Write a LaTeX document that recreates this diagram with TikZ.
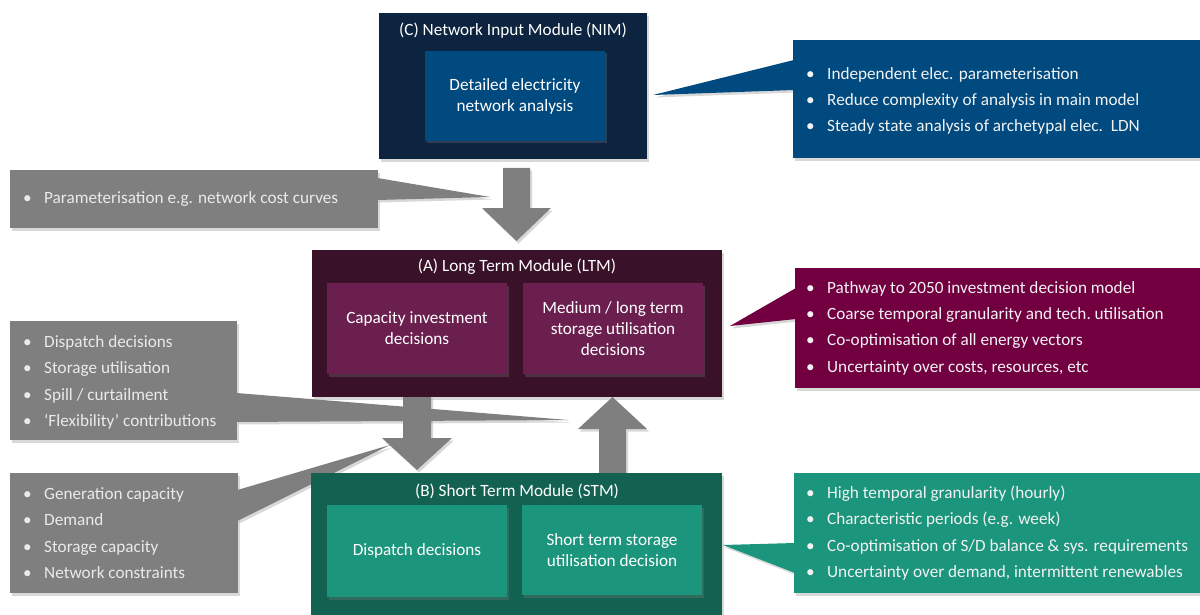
\documentclass[tikz,border=0pt]{standalone}
\usepackage{fontspec}
\setmainfont{Carlito}
\usetikzlibrary{shadows,calc}
\definecolor{nimouter}{HTML}{0D2440}
\definecolor{nimin}{HTML}{004A7F}
\definecolor{ltmouter}{HTML}{391129}
\definecolor{ltmin}{HTML}{6B1F4F}
\definecolor{pinkc}{HTML}{720041}
\definecolor{stmouter}{HTML}{136150}
\definecolor{stmin}{HTML}{1B957B}
\definecolor{boxgray}{HTML}{7F7F7F}
\definecolor{graytext}{HTML}{EAEAEA}
\definecolor{calltext}{HTML}{F2F2F2}
\newcommand\bl{\makebox[21pt][l]{\textbullet}}
\begin{document}
\begin{tikzpicture}[x=1pt,y=-1pt,
 shd/.style={drop shadow={shadow xshift=2pt,shadow yshift=-2.5pt,opacity=0.3}},
 modbox/.style={rectangle, inner sep=0pt, shd, anchor=north west},
 inbox/.style={rectangle, inner sep=0pt, shd, align=center, text=white, font=\fontsize{17.2}{21}\selectfont},
 ttl/.style={text=white, font=\fontsize{17.2}{20}\selectfont, inner sep=0pt},
 lst/.style={anchor=west, align=left, inner sep=0pt, font=\fontsize{17.2}{26.3}\selectfont},
 garrow/.style={fill=boxgray, shd}
]
\fill[white] (0,0) rectangle (1200,615);
\useasboundingbox (0,0) rectangle (1200,615);

% ---------- gray input boxes ----------
\node[modbox, fill=boxgray, minimum width=368pt, minimum height=58pt] (pbox) at (10,170) {};
\node[modbox, fill=boxgray, minimum width=227pt, minimum height=119pt] (dbox) at (10,321) {};
\node[modbox, fill=boxgray, minimum width=228pt, minimum height=120pt] (gbox) at (10,473) {};

\coordinate (ptip) at (490,197);
\coordinate (dtip) at (568,420);
\coordinate (gtip) at (390,445);

% ---------- modules ----------
\node[modbox, fill=nimouter, minimum width=268pt, minimum height=146pt] (nim) at (379,13) {};
\node[modbox, fill=ltmouter, minimum width=410pt, minimum height=147pt] (ltm) at (312,250) {};
\node[modbox, fill=stmouter, minimum width=411pt, minimum height=150pt] (stm) at (311,473) {};

% ---------- block arrows ----------
\coordinate (a1s) at (516.5,168);
\coordinate (a1e) at (516.5,241);
\fill[garrow] ($(a1s)+(-13.5,0)$) -- ($(a1s)+(13.5,0)$) -- ($(a1e)+(13.5,-33)$) -- ($(a1e)+(34.5,-33)$)
  -- (a1e) -- ($(a1e)+(-34.5,-33)$) -- ($(a1e)+(-13.5,-33)$) -- cycle;
\coordinate (a2s) at (417,396);
\coordinate (a2e) at (417,470);
\fill[garrow] ($(a2s)+(-14,0)$) -- ($(a2s)+(14,0)$) -- ($(a2e)+(14,-32)$) -- ($(a2e)+(35,-32)$)
  -- (a2e) -- ($(a2e)+(-35,-32)$) -- ($(a2e)+(-14,-32)$) -- cycle;
\coordinate (a3s) at (612.5,473);
\coordinate (a3e) at (612.5,397);
\fill[garrow] ($(a3s)+(-13.5,0)$) -- ($(a3s)+(13.5,0)$) -- ($(a3e)+(13.5,32)$) -- ($(a3e)+(34.5,32)$)
  -- (a3e) -- ($(a3e)+(-34.5,32)$) -- ($(a3e)+(-13.5,32)$) -- cycle;

% ---------- gray pointers ----------
\fill[garrow] ($(pbox.north east)+(-1,8)$) -- (ptip) -- ($(pbox.north east)+(-1,30)$) -- cycle;
\fill[garrow] ($(dbox.north east)+(-1,72)$) -- (dtip) -- ($(dbox.north east)+(-1,101)$) -- cycle;
\fill[garrow] ($(gbox.north east)+(-1,17)$) -- (gtip) -- ($(gbox.north east)+(-1,48)$) -- cycle;

\fill[boxgray] (pbox.north west) rectangle (pbox.south east);
\fill[boxgray] (dbox.north west) rectangle (dbox.south east);
\fill[boxgray] (gbox.north west) rectangle (gbox.south east);

\fill[nimouter] (nim.north west) rectangle (nim.south east);
\fill[ltmouter] (ltm.north west) rectangle (ltm.south east);
\fill[stmouter] (stm.north west) rectangle (stm.south east);

% ---------- gray texts ----------
\node[lst, text=graytext] (ptext) at (23,199.5) {\bl Parameterisation e.g. network cost curves};
\node[lst, text=graytext] (dtext) at (23,382.5) {\bl Dispatch decisions\\\bl Storage utilisation\\\bl Spill / curtailment\\\bl ‘Flexibility’ contributions};
\node[lst, text=graytext] (gtext) at (23,533) {\bl Generation capacity\\\bl Demand\\\bl Storage capacity\\\bl Network constraints};

% ---------- module contents ----------
\node[ttl] (nimtitle) at (513,31) {(C) Network Input Module (NIM)};
\node[inbox, fill=nimin, minimum width=180pt, minimum height=90pt] (nimbox) at (515,96) {Detailed electricity\\network analysis};

\node[ttl] (ltmtitle) at (517,267) {(A) Long Term Module (LTM)};
\node[inbox, fill=ltmin, minimum width=180pt, minimum height=91pt] (cap) at (417,328.5) {Capacity investment\\decisions};
\node[inbox, fill=ltmin, minimum width=180pt, minimum height=91pt] (med) at (613,328.5) {Medium / long term\\storage utilisation\\decisions};

\node[ttl] (stmtitle) at (517,491) {(B) Short Term Module (STM)};
\node[inbox, fill=stmin, minimum width=180pt, minimum height=92pt] (disp) at (417,551) {Dispatch decisions};
\node[inbox, fill=stmin, minimum width=180pt, minimum height=90pt] (sts) at (612,550) {Short term storage\\utilisation decision};

% ---------- right callouts ----------
\coordinate (ctip) at (653,95);
\coordinate (atip) at (730,326);
\coordinate (btip) at (723,545);
\node[modbox, fill=nimin, minimum width=407pt, minimum height=118pt] (cbox) at (793,40) {};
\fill[nimin, shd] ($(cbox.north west)+(1,20)$) -- (ctip) -- ($(cbox.north west)+(1,50)$) -- cycle;
\fill[nimin] (cbox.north west) rectangle (cbox.south east);
\node[lst, text=calltext] (ctext) at (806,101) {\bl Independent elec. parameterisation\\\bl Reduce complexity of analysis in main model\\\bl Steady state analysis of archetypal elec.\ \ LDN};

\node[modbox, fill=pinkc, minimum width=405pt, minimum height=120pt] (abox) at (795,268) {};
\fill[pinkc, shd] ($(abox.north west)+(1,20)$) -- (atip) -- ($(abox.north west)+(1,51)$) -- cycle;
\fill[pinkc] (abox.north west) rectangle (abox.south east);
\node[lst, text=calltext] (atext) at (806,328) {\bl Pathway to 2050 investment decision model\\\bl Coarse temporal granularity and tech.\ utilisation\\\bl Co-optimisation of all energy vectors\\\bl Uncertainty over costs, resources, etc};

\node[modbox, fill=stmin, minimum width=406pt, minimum height=120pt] (bbox) at (794,473) {};
\fill[stmin, shd] ($(bbox.north west)+(1,70)$) -- (btip) -- ($(bbox.north west)+(1,100)$) -- cycle;
\fill[stmin] (bbox.north west) rectangle (bbox.south east);
\node[lst, text=calltext] (btext) at (806,533) {\bl High temporal granularity (hourly)\\\bl Characteristic periods (e.g. week)\\\bl Co-optimisation of S/D balance \& sys. requirements\\\bl Uncertainty over demand, intermittent renewables};
\end{tikzpicture}
\end{document}
